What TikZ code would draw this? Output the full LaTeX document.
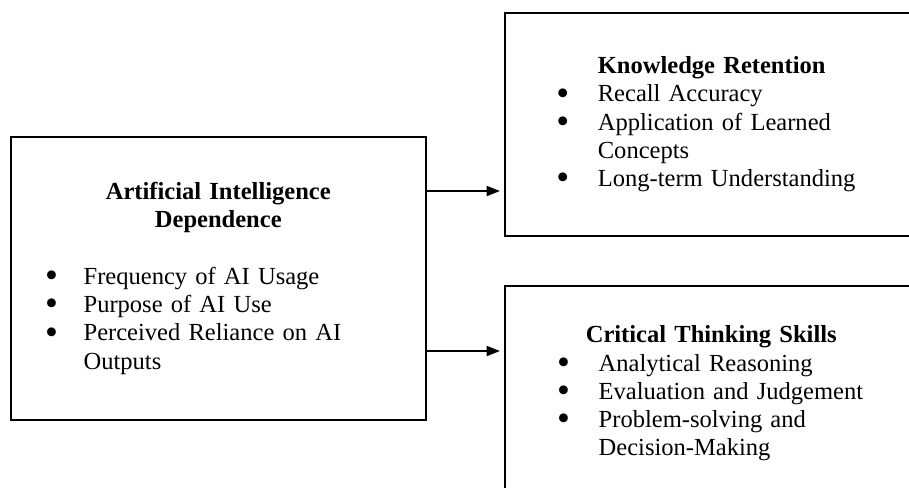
\documentclass[tikz,border=0pt]{standalone}
\usepackage{fontspec}
\setmainfont{Liberation Serif}
\usetikzlibrary{arrows.meta, positioning}
\newcommand{\bulletitem}[2][17.7pt]{\makebox[#1][l]{\hspace{-1.1pt}\smash{\raisebox{-1.6pt}{\scalebox{1.5}{\textbullet}}}}#2}

\begin{document}
\begin{tikzpicture}[x=0.489pt, y=-0.489pt,
  frame/.style={draw, line width=0.8pt, rectangle, inner ysep=0pt, align=left,
    font=\fontsize{12}{13.8}\selectfont, anchor=north west},
  link/.style={-{Triangle[length=6.5pt, width=5pt]}, line width=0.6pt,
    shorten >=2pt}]

  \useasboundingbox (0,0) rectangle (909,488);
  \clip (0,0) rectangle (909,488);

  \node[frame, inner xsep=17.9pt, text width=167.1pt, minimum height=138.4pt] (aid) at (10,136) {
    \makebox[\hsize]{\textbf{Artificial Intelligence}}\\
    \makebox[\hsize]{\textbf{Dependence}}\\[13.8pt]
    \bulletitem{Frequency of AI Usage}\\
    \bulletitem{Purpose of AI Use}\\
    \bulletitem{Perceived Reliance on AI}\\
    \hspace*{17.7pt}Outputs};

  \node[frame, inner xsep=26.3pt, text width=170.4pt, minimum height=109.0pt] (kr) at (504,12) {
    \hspace*{19.2pt}\textbf{Knowledge Retention}\\
    \bulletitem[19.2pt]{Recall Accuracy}\\
    \bulletitem[19.2pt]{Application of Learned}\\
    \hspace*{19.2pt}Concepts\\
    \bulletitem[19.2pt]{Long-term Understanding}};

  \node[frame, inner xsep=26.7pt, text width=170pt, minimum height=105.3pt] (cts) at (504,285) {
    \hspace*{12.9pt}\textbf{Critical Thinking Skills}\\
    \bulletitem[19.2pt]{Analytical Reasoning}\\
    \bulletitem[19.2pt]{Evaluation and Judgement}\\
    \bulletitem[19.2pt]{Problem-solving and}\\
    \hspace*{19.2pt}Decision-Making};

  \coordinate (upper) at (0,191);
  \coordinate (lower) at (0,351);
  \draw[link] (aid.east |- upper) -- (kr.west |- upper);
  \draw[link] (aid.east |- lower) -- (cts.west |- lower);
\end{tikzpicture}
\end{document}
